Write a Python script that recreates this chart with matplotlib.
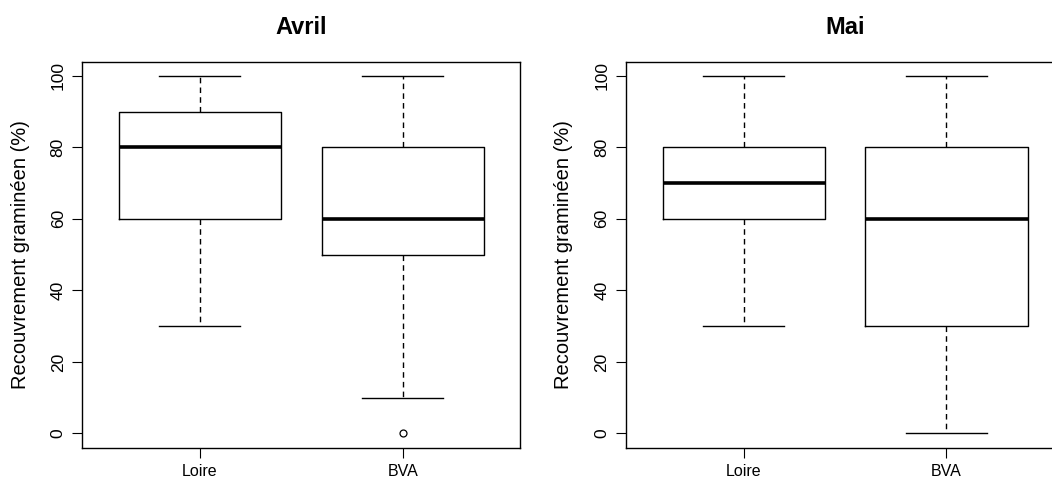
import matplotlib
matplotlib.use("Agg")
import matplotlib.pyplot as plt

plt.rcParams['font.family'] = ['Liberation Sans', 'DejaVu Sans']

months = ["Avril", "Mai"]
groups = ["Loire", "BVA"]
whislo = [[30, 10], [30, 0]]
q1 = [[60, 50], [60, 30]]
med = [[80, 60], [70, 60]]
q3 = [[90, 80], [80, 80]]
whishi = [[100, 100], [100, 100]]
fliers = [[[], [0]], [[], []]]
yticks = [0, 20, 40, 60, 80, 100]
ylab = "Recouvrement graminéen (%)"

W, H = 1052, 482
fig = plt.figure(figsize=(W / 100, H / 100), dpi=100)
lefts = [82.3, 626.0]
axw, axh = 438.0, 386.2
bottom = H - 447.7

for m in range(2):
    ax = fig.add_axes([lefts[m] / W, bottom / H, axw / W, axh / H])
    stats = []
    for g in range(2):
        stats.append(dict(whislo=whislo[m][g], q1=q1[m][g], med=med[m][g],
                          q3=q3[m][g], whishi=whishi[m][g], fliers=fliers[m][g]))
    ax.bxp(stats, positions=[1, 2], widths=0.8, showfliers=True,
           boxprops=dict(color="black", lw=1),
           medianprops=dict(color="black", lw=2.6, solid_capstyle="butt"),
           whiskerprops=dict(color="black", lw=1, ls=(0, (4, 3))),
           capprops=dict(color="black", lw=1),
           capwidths=0.4,
           flierprops=dict(marker="o", markersize=5, markerfacecolor="none",
                           markeredgecolor="black", markeredgewidth=0.9))
    ax.set_xlim(0.42, 2.58)
    ax.set_ylim(-4, 104)
    ax.set_xticks([1, 2])
    ax.set_xticklabels(groups, fontsize=11.5)
    ax.set_yticks(yticks)
    ax.set_yticklabels([str(t) for t in yticks], fontsize=12.5, rotation=90, va="center")
    ax.tick_params(length=7, width=0.8, pad=5)
    for sp in ax.spines.values():
        sp.set_linewidth(1)
    ax.set_ylabel(ylab, fontsize=14.5, va="center")
    ax.yaxis.set_label_coords((20 - 82.3) / axw, 0.5)
    ax.text(0.5, 1 + (61.5 - 28) / axh, months[m], transform=ax.transAxes,
            ha="center", va="center", fontsize=17, fontweight="bold")

fig.savefig("out.png", dpi=100)
